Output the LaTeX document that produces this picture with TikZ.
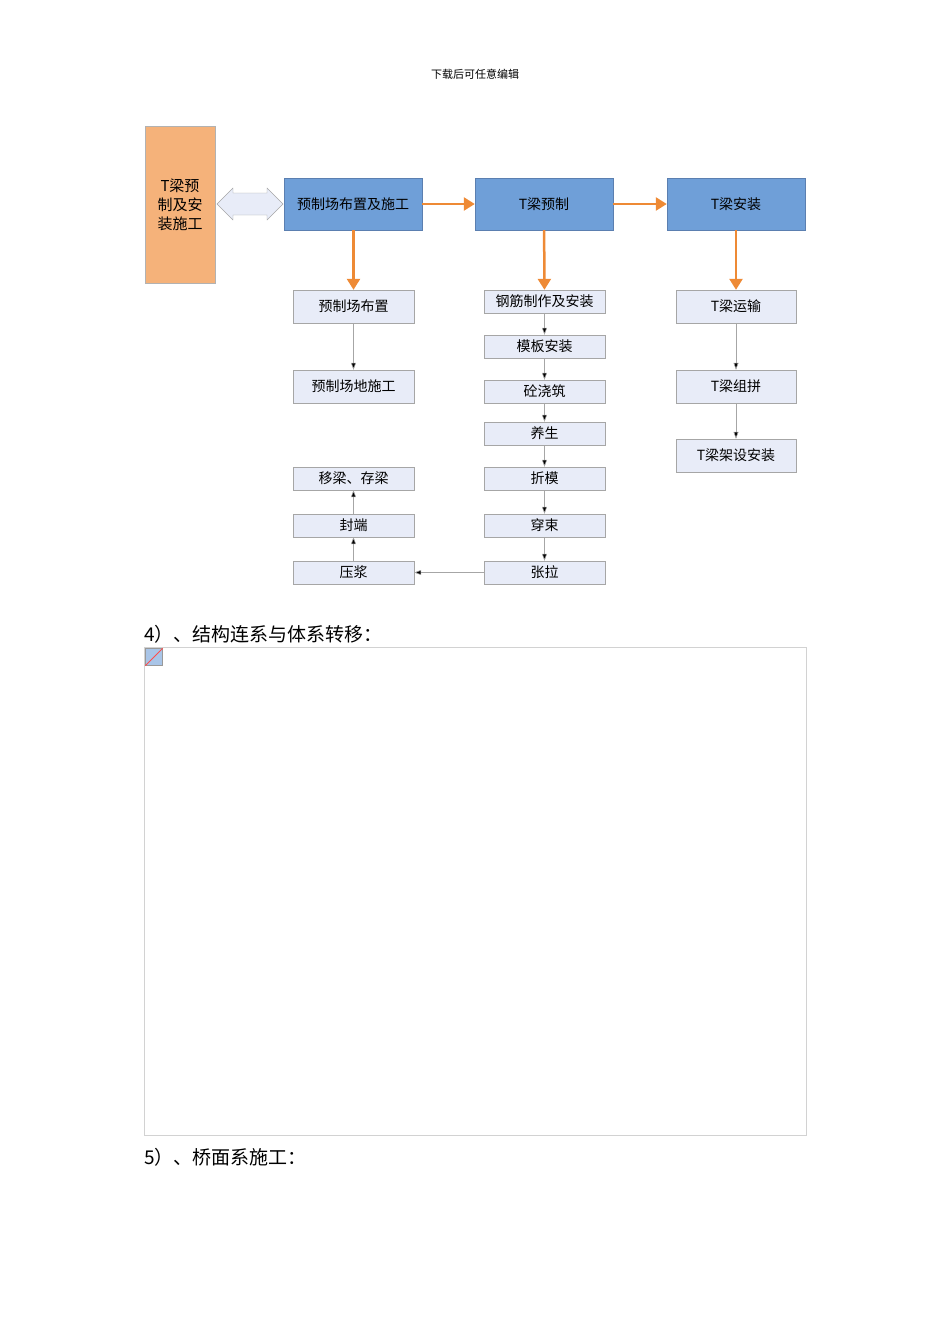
\documentclass[tikz,border=0pt]{standalone}
\usepackage{fontspec}
\setmainfont{Noto Sans CJK SC}
\usetikzlibrary{arrows.meta,shapes.arrows}
\definecolor{blu}{HTML}{6F9FD8}
\definecolor{blubd}{HTML}{5B7FB0}
\definecolor{org}{HTML}{F5B27A}
\definecolor{oarr}{HTML}{EE8A35}
\definecolor{lbox}{HTML}{E8ECF8}
\tikzset{
 main/.style={draw=blubd,fill=blu,minimum width=138pt,minimum height=52pt,font=\fontsize{14}{14}\selectfont,inner sep=0pt},
 sub/.style={draw=gray!70,fill=lbox,minimum width=121pt,font=\fontsize{14}{14}\selectfont,inner sep=0pt},
 oa/.style={draw=oarr,line width=2.5pt,-{Triangle[length=11pt,width=13pt]}},
 ta/.style={draw=gray!70,line width=0.6pt,-{Triangle[length=7pt,width=5pt,fill=black]}}
}
\begin{document}
\begin{tikzpicture}[x=1pt,y=-1pt]
\useasboundingbox (0,0) rectangle (950,1344);
\node (hd) at (475,74) {\fontsize{11}{11}\selectfont 下载后可任意编辑};
\node (tl) [draw=gray!60,fill=org,minimum width=70pt,minimum height=157pt,align=center,font=\fontsize{15}{19}\selectfont,inner sep=0pt] at (180,204.5) {T梁预\\制及安\\装施工};
\node (dbl) [double arrow,draw=gray!70,fill=lbox,minimum width=32pt,double arrow head extend=1pt,minimum height=66pt,inner sep=2pt] at (250,204) {};
\node (A) [main] at (353,204) {预制场布置及施工};
\node (B) [main] at (544,204) {T梁预制};
\node (C) [main] at (736,204) {T梁安装};
\draw[oa] (A) -- (B);
\draw[oa] (B) -- (C);
\node (a1) [sub,minimum height=33pt] at (353.5,306.5) {预制场布置};
\node (a2) [sub,minimum height=33pt] at (353.5,386.5) {预制场地施工};
\node (a3) [sub,minimum height=23pt] at (353.5,478.5) {移梁、存梁};
\node (a4) [sub,minimum height=23pt] at (353.5,525.5) {封端};
\node (a5) [sub,minimum height=23pt] at (353.5,572.5) {压浆};
\node (b1) [sub,minimum height=23pt] at (544.5,301.5) {钢筋制作及安装};
\node (b2) [sub,minimum height=23pt] at (544.5,346.5) {模板安装};
\node (b3) [sub,minimum height=23pt] at (544.5,391.5) {砼浇筑};
\node (b4) [sub,minimum height=23pt] at (544.5,433.5) {养生};
\node (b5) [sub,minimum height=23pt] at (544.5,478.5) {折模};
\node (b6) [sub,minimum height=23pt] at (544.5,525.5) {穿束};
\node (b7) [sub,minimum height=23pt] at (544.5,572.5) {张拉};
\node (c1) [sub,minimum height=33pt,minimum width=120pt] at (736,306.5) {T梁运输};
\node (c2) [sub,minimum height=33pt,minimum width=120pt] at (736,386.5) {T梁组拼};
\node (c3) [sub,minimum height=33pt,minimum width=120pt] at (736,455.5) {T梁架设安装};
\draw[oa] (A.south -| a1.north) -- (a1.north);
\draw[oa] (B) -- (b1);
\draw[oa] (C) -- (c1);
\draw[ta] (a1) -- (a2);
\draw[ta] (b1) -- (b2);
\draw[ta] (b2) -- (b3);
\draw[ta] (b3) -- (b4);
\draw[ta] (b4) -- (b5);
\draw[ta] (b5) -- (b6);
\draw[ta] (b6) -- (b7);
\draw[ta] (b7) -- (a5);
\draw[ta] (a5) -- (a4);
\draw[ta] (a4) -- (a3);
\draw[ta] (c1) -- (c2);
\draw[ta] (c2) -- (c3);
\node (t4) [anchor=west,inner sep=0pt] at (144,634) {\fontsize{19}{19}\selectfont 4）、结构连系与体系转移：};
\draw[gray!35] (144,647) rectangle (806,1135);
\node (ic) [draw=gray!80,fill=blu!60,minimum size=17pt,inner sep=0pt] at (154,657) {};
\draw[red!70,line width=1pt] (ic.south west) -- (ic.north east);
\node (t5) [anchor=west,inner sep=0pt] at (144,1157) {\fontsize{19}{19}\selectfont 5）、桥面系施工：};
\end{tikzpicture}
\end{document}
